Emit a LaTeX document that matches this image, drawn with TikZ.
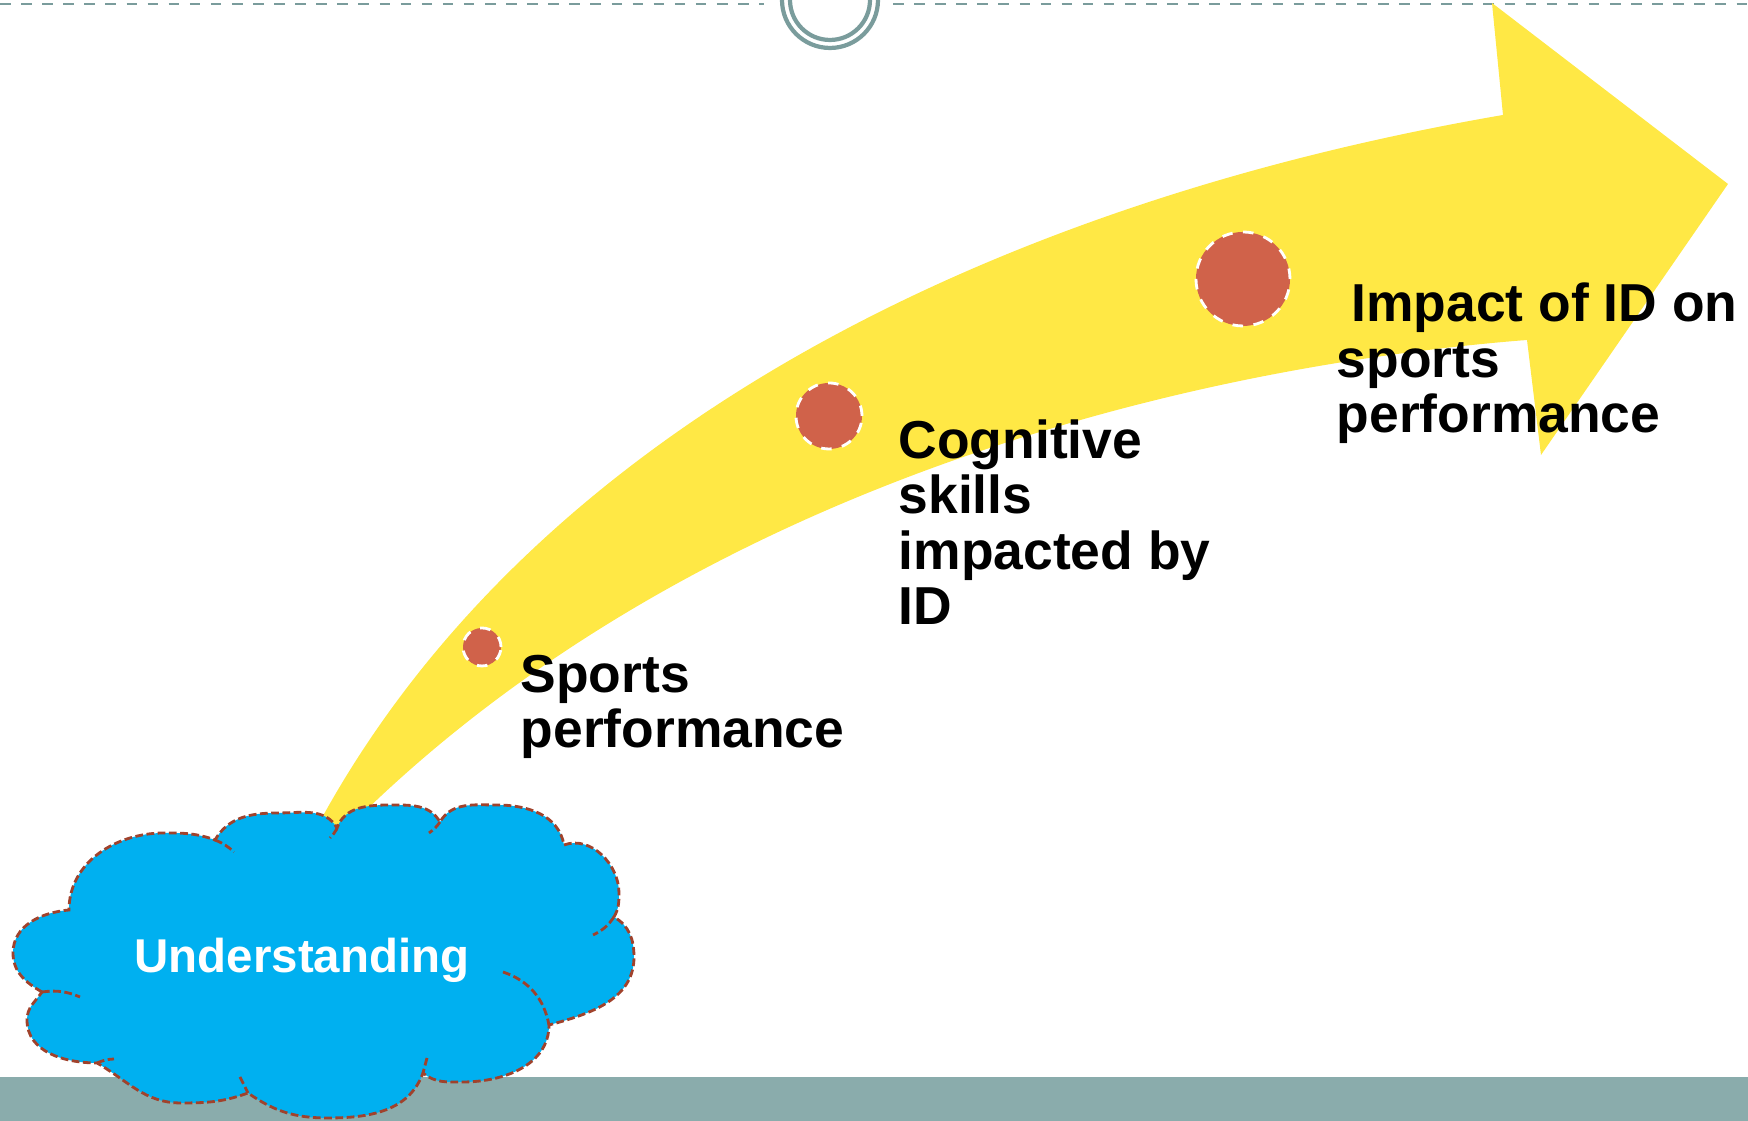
\documentclass[tikz,border=0pt]{standalone}
\usepackage{fontspec}
\setmainfont{Liberation Sans}
\usetikzlibrary{positioning}
\definecolor{arrowyellow}{HTML}{FFE845}
\definecolor{dotred}{HTML}{D0624A}
\definecolor{cloudblue}{HTML}{00B0F0}
\definecolor{cloudedge}{HTML}{A0422C}
\definecolor{barteal}{HTML}{8AACAC}
\definecolor{topteal}{HTML}{7A9C9C}

\begin{document}
\begin{tikzpicture}[
    milestone/.style={circle, draw=white, dashed, line width=0.8pt, fill=dotred, inner sep=0pt},
    steptext/.style={anchor=base west, align=left, inner sep=0pt, font=\bfseries\fontsize{15.2}{15.8}\selectfont},
    cloudline/.style={draw=cloudedge, line width=0.8pt, dash pattern=on 2.2pt off 1pt},
    cloudtext/.style={anchor=base, text=white, inner sep=0pt, font=\bfseries\fontsize{13.5}{16}\selectfont}
  ]
            \useasboundingbox (0,0) rectangle (17.48,11.21);
            % frame of the slide
            \fill[barteal] (0,0) rectangle (17.48,0.44);
            \draw[topteal, dashed, line width=0.6pt] (0,11.17) -- (7.64,11.17);
            \draw[topteal, dashed, line width=0.6pt] (8.93,11.17) -- (17.48,11.17);
            \draw[topteal, line width=1.2pt] (8.30,11.21) circle (0.48);
            \draw[topteal, line width=1.2pt] (8.30,11.21) circle (0.40);

            % curved arrow
            \fill[arrowyellow] (3.34,2.63) -- (3.18,2.96)
                .. controls (5.35,6.97) and (10.03,9.20) .. (15.03,10.06)
                -- (14.92,11.18) -- (17.28,9.37) -- (15.41,6.66) -- (15.27,7.81)
                .. controls (11.71,7.53) and (6.89,6.28) .. (3.57,3.02) -- cycle;

            % cloud, puff by puff
            \path[cloudline, fill=cloudblue] (0.42,1.29)
                to[out=150,in=270] (0.13,1.68) to[out=90,in=185] (0.69,2.11)
                to[out=90,in=180] (1.64,2.88) to[out=0,in=160] (2.15,2.81)
                to[out=60,in=180] (2.78,3.08) to[out=0,in=120] (3.37,2.93)
                to[out=70,in=180] (3.91,3.16) to[out=0,in=120] (4.40,2.99)
                to[out=60,in=180] (4.97,3.16) to[out=0,in=100] (5.64,2.76)
                to[out=20,in=90] (6.19,2.28) to[out=270,in=60] (6.14,2.04)
                to[out=-30,in=90] (6.34,1.64) to[out=270,in=15] (5.49,0.96)
                to[out=270,in=0] (4.63,0.39) to[out=180,in=320] (4.23,0.48)
                to[out=250,in=0] (3.28,0.03) to[out=180,in=325] (2.48,0.28)
                to[out=200,in=0] (1.81,0.18) to[out=180,in=330] (0.97,0.58)
                to[out=180,in=270] (0.27,1.01) to[out=90,in=235] (0.42,1.29) -- cycle;
            \draw[cloudline] (2.15,2.81) to[bend left=10] (2.34,2.69);
            \draw[cloudline] (3.37,2.93) to[bend left=10] (3.30,2.83);
            \draw[cloudline] (4.40,2.99) to[bend left=10] (4.29,2.88);
            \draw[cloudline] (6.14,2.04) to[bend left=15] (5.93,1.86);
            \draw[cloudline] (5.03,1.49) to[bend left=30] (5.49,0.96);
            \draw[cloudline] (4.27,0.63) -- (4.23,0.48);
            \draw[cloudline] (2.40,0.44) -- (2.48,0.28);
            \draw[cloudline] (0.97,0.58) to[bend left=10] (1.14,0.62);
            \draw[cloudline] (0.42,1.29) to[bend left=15] (0.80,1.24);
            \node[cloudtext] (understanding) at (3.02,1.48) {Understanding};

            % milestones along the arrow
            \node[milestone, minimum size=0.38cm] (dot1) at (4.82,4.74) {};
            \node[milestone, minimum size=0.66cm] (dot2) at (8.29,7.05) {};
            \node[milestone, minimum size=0.94cm] (dot3) at (12.43,8.42) {};

            % last baselines of the labels
            \node[steptext] (sports) at (5.20,3.73) {Sports\\performance};
            \node[steptext] (cognitive) at (8.98,4.96) {Cognitive\\skills\\impacted by\\ID};
            \node[steptext] (impact) at (13.36,6.88) {\ Impact of ID on\\sports\\performance};
        \end{tikzpicture}
\end{document}
